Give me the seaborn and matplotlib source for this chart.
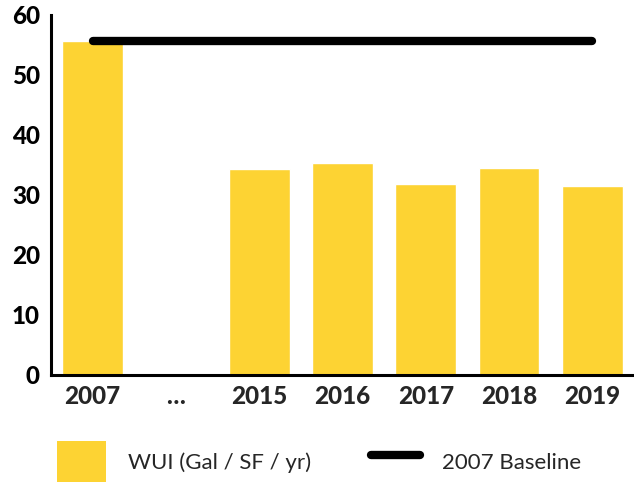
import numpy as np
import pandas as pd
import matplotlib
matplotlib.use("Agg")
import matplotlib.pyplot as plt
import seaborn as sns
from matplotlib.patches import Patch
from matplotlib.lines import Line2D
from matplotlib.ticker import FixedLocator

# данные
years = ["2007", "…", "2015", "2016", "2017", "2018", "2019"]
wui = [55.7, np.nan, 34.3, 35.3, 31.8, 34.5, 31.5]
baseline = 55.7
y_ticks = [0, 10, 20, 30, 40, 50, 60]

bar_color = "#FDD333"

sns.set_style("white")
plt.rcParams["font.family"] = ["Lato", "DejaVu Sans"]

df = pd.DataFrame({"year": years, "wui": wui})

fig = plt.figure(figsize=(6.34, 4.82), dpi=100)
ax = fig.add_axes([51 / 634, 1 - 375 / 482, 1 - 51 / 634, 360 / 482])

sns.barplot(data=df, x="year", y="wui", order=years, color=bar_color,
            saturation=1, width=0.73, ax=ax)

# линия базового уровня 2007 года
ax.plot([0, len(years) - 1], [baseline, baseline], color="black", lw=6,
        solid_capstyle="round")

ax.set_xlim(-0.5, len(years) - 0.5)
ax.set_ylim(0, 60)
ax.set_yticks(y_ticks)
ax.set_xlabel("")
ax.set_ylabel("")

# оси
for s in ["top", "right"]:
    ax.spines[s].set_visible(False)
for s in ["left", "bottom"]:
    ax.spines[s].set_linewidth(2.2)
    ax.spines[s].set_color("black")

ax.tick_params(axis="y", direction="in", length=9, width=2.2, pad=8,
               labelsize=17.5, colors="black")
ax.tick_params(axis="x", which="major", length=0, pad=7, labelsize=17.5)
ax.xaxis.set_minor_locator(FixedLocator(np.arange(0.5, len(years) - 1, 1)))
ax.tick_params(axis="x", which="minor", direction="in", length=6, width=2.2)
for lab in ax.get_xticklabels() + ax.get_yticklabels():
    lab.set_fontweight("black")

# легенда
handles = [
    Patch(facecolor=bar_color, edgecolor="none", label="WUI (Gal / SF / yr)"),
    Line2D([0], [0], color="black", lw=6, solid_capstyle="round",
           label="2007 Baseline"),
]
fig.legend(handles=handles, loc="center left", bbox_to_anchor=(57 / 634, 1 - 462 / 482),
           ncol=2, frameon=False, fontsize=16, handlelength=2.2, handleheight=2.5,
           handletextpad=1.0, columnspacing=2.7, borderpad=0, borderaxespad=0)

fig.savefig("out.png", dpi=100)
